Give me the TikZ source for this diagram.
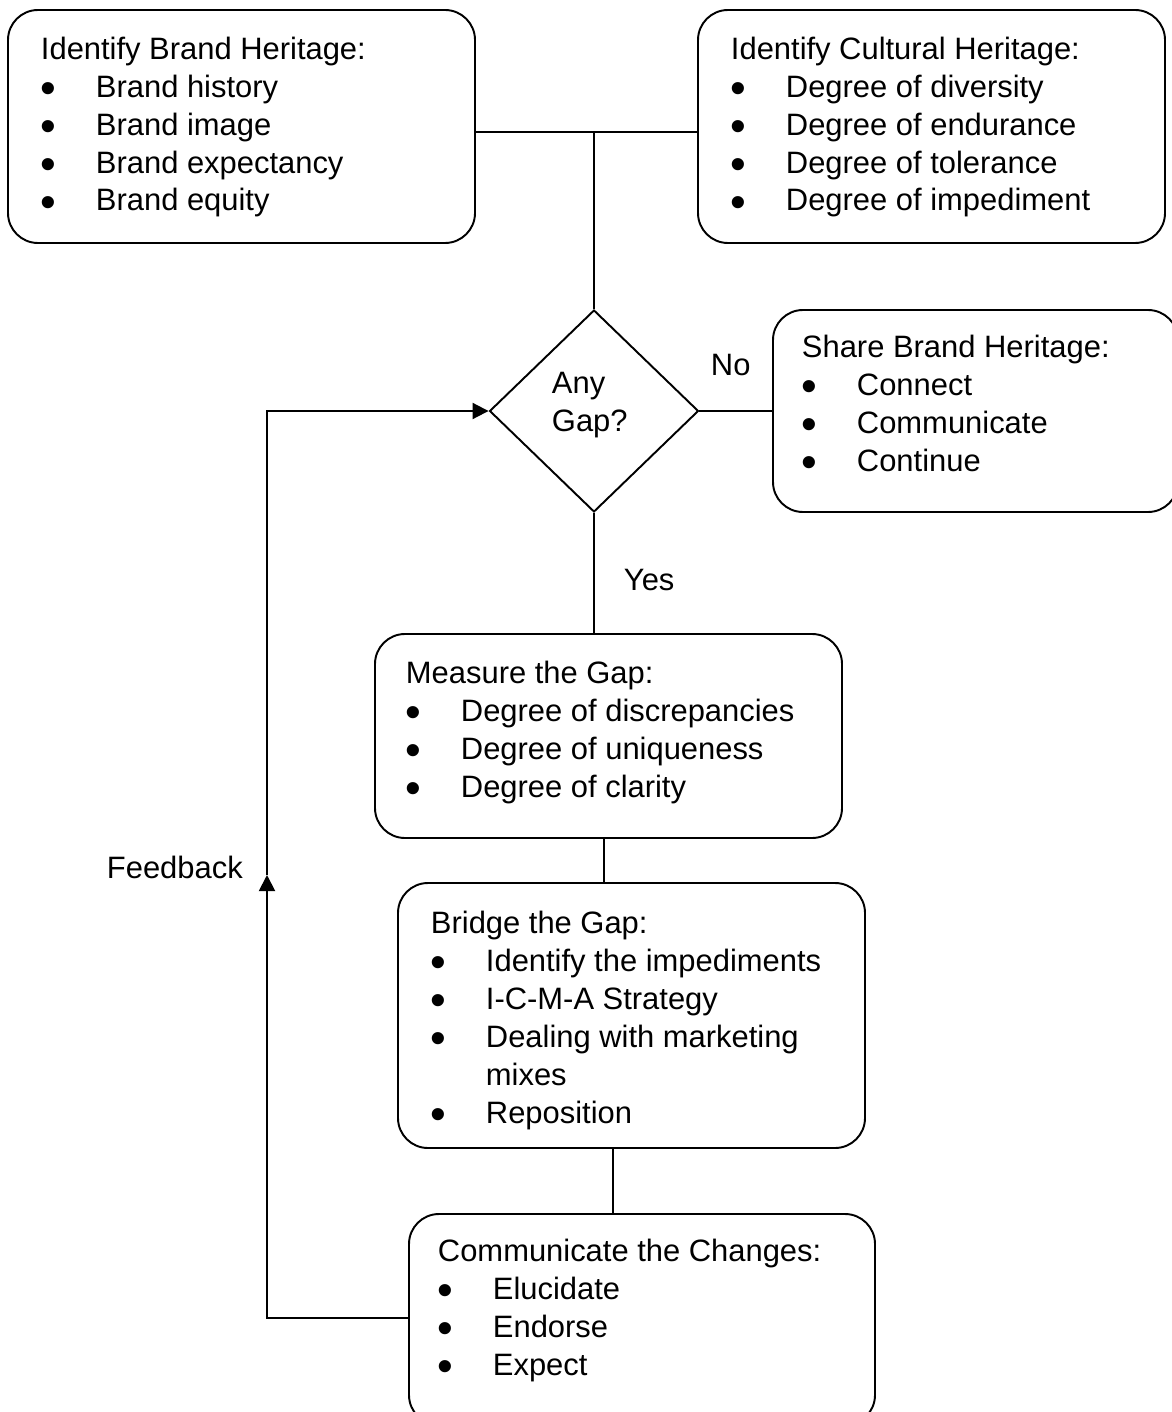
\documentclass[tikz,border=0pt]{standalone}
\usepackage{fontspec}
\setmainfont{Liberation Sans}
\usetikzlibrary{shapes.geometric,fit,arrows.meta}
\newcommand\bitem[1]{\makebox[1.1cm][l]{\smash{\raisebox{-0.2em}{\scalebox{1.45}{•}}}}#1}
\begin{document}
\begin{tikzpicture}[x=0.02cm,y=-0.02cm, line width=1.1pt,
  boxstyle/.style={draw, rounded corners=0.6cm, inner sep=0pt},
  txt/.style={anchor=base west, inner sep=0pt, align=left,
    font=\fontsize{17.6pt}{21.55pt}\selectfont},
  tip/.style={-{Triangle[length=0.32cm,width=0.32cm]}}]
\useasboundingbox (0,0) rectangle (1171,1412);
% boxes
\node[boxstyle, fit={(8,10)(475,243)}] (b1) {};
\node[boxstyle, fit={(698,10)(1165,243)}] (b2) {};
\node[boxstyle, fit={(773,310)(1178,512)}] (share) {};
\node[boxstyle, fit={(375,634)(842,838)}] (measure) {};
\node[boxstyle, fit={(398,883)(865,1148)}] (bridge) {};
\node[boxstyle, fit={(409,1214)(875,1425)}] (comm) {};
\node[draw, diamond, aspect=1.035, minimum width=4.18cm, minimum height=4.04cm, inner sep=0pt] (gap) at (594,411) {};
% texts (anchored at the baseline of their last line)
\node[txt] (t1) at (40,211) {Identify Brand Heritage:\\ \bitem{Brand history}\\ \bitem{Brand image}\\ \bitem{Brand expectancy}\\ \bitem{Brand equity}};
\node[txt] (t2) at (730,211) {Identify Cultural Heritage:\\ \bitem{Degree of diversity}\\ \bitem{Degree of endurance}\\ \bitem{Degree of tolerance}\\ \bitem{Degree of impediment}};
\node[txt] (t3) at (801,471) {Share Brand Heritage:\\ \bitem{Connect}\\ \bitem{Communicate}\\ \bitem{Continue}};
\node[txt] (t4) at (405,797) {Measure the Gap:\\ \bitem{Degree of discrepancies}\\ \bitem{Degree of uniqueness}\\ \bitem{Degree of clarity}};
\node[txt] (t5) at (430,1123) {Bridge the Gap:\\ \bitem{Identify the impediments}\\ \bitem{I-C-M-A Strategy}\\ \bitem{Dealing with marketing}\\ \hspace*{1.1cm}mixes\\ \bitem{Reposition}};
\node[txt] (t6) at (437,1375) {Communicate the Changes:\\ \bitem{Elucidate}\\ \bitem{Endorse}\\ \bitem{Expect}};
\node[txt] (t7) at (551,431) {Any\\ Gap?};
\node[txt] (no) at (710,375) {No};
\node[txt] (yes) at (623,590) {Yes};
\node[txt] (fb) at (106,878) {Feedback};
% connectors
\coordinate (j1) at (594,132);
\draw (b1.east |- j1) -- (b2.west |- j1);
\draw (j1) -- (gap.north);
\draw (gap.east) -- (share.west |- gap.east);
\draw (gap.south) -- (gap.south |- measure.north);
\coordinate (m1) at (604,838);
\draw (m1) -- (m1 |- bridge.north);
\coordinate (m2) at (613,1148);
\draw (m2) -- (m2 |- comm.north);
\coordinate (fc) at (267,1318);
\coordinate (fmid) at (267,875);
\draw[tip] (comm.west |- fc) -- (fc) -- (fmid);
\draw[tip] (fmid) -- (fmid |- gap.west) -- (gap.west);
\end{tikzpicture}
\end{document}
